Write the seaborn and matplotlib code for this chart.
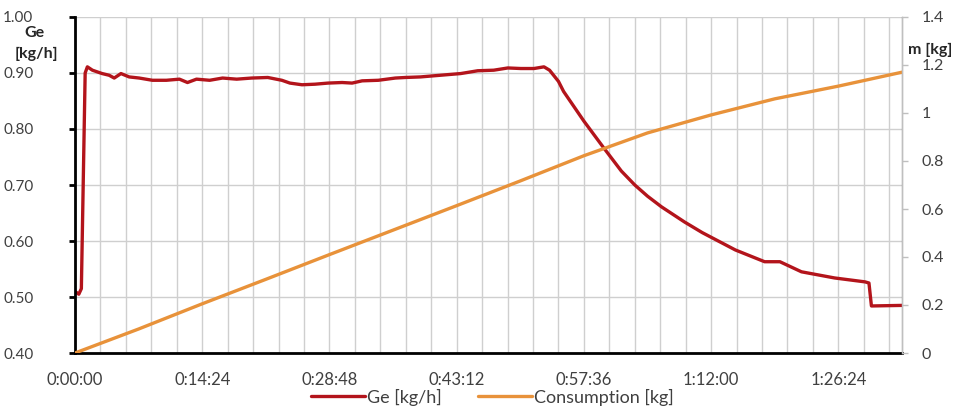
import matplotlib
matplotlib.use("Agg")
import matplotlib.pyplot as plt
from matplotlib.ticker import FuncFormatter, MultipleLocator, FixedLocator
from matplotlib.lines import Line2D
import seaborn as sns
import pandas as pd

# Fuel consumption rate (left axis), time in minutes
ge_time = [0, 0.43, 0.72, 1.15, 1.40, 1.97, 3.07, 3.86, 4.44, 5.20, 6.13, 7.27, 8.76,
           10.34, 11.82, 12.73, 13.75, 15.24, 16.70, 18.30, 20.00, 21.82, 23.41, 24.32,
           25.69, 27.16, 28.64, 30.23, 31.36, 32.50, 34.33, 36.26, 37.40, 39.10, 41.37,
           43.65, 45.58, 47.39, 48.99, 50.46, 51.94, 53.08, 53.71, 54.72, 55.30, 57.60,
           59.76, 61.83, 63.36, 64.80, 66.38, 68.98, 70.99, 74.74, 78.05, 79.78, 82.22,
           85.97, 89.42, 89.86, 90.14, 93.60]
ge_rate = [0.510, 0.505, 0.515, 0.900, 0.911, 0.905, 0.899, 0.896, 0.891, 0.899, 0.893,
           0.891, 0.887, 0.887, 0.889, 0.883, 0.889, 0.887, 0.891, 0.889, 0.891, 0.892,
           0.887, 0.882, 0.879, 0.880, 0.882, 0.883, 0.882, 0.886, 0.887, 0.891, 0.892,
           0.893, 0.896, 0.899, 0.904, 0.905, 0.909, 0.908, 0.908, 0.911, 0.905, 0.885,
           0.867, 0.814, 0.768, 0.725, 0.700, 0.680, 0.661, 0.634, 0.615, 0.584, 0.563,
           0.563, 0.545, 0.534, 0.527, 0.525, 0.484, 0.485]

# Cumulative consumption (right axis)
cons_time = [0, 7.2, 14.4, 21.6, 28.8, 36.0, 43.2, 50.4, 57.6, 64.8, 72.0, 79.2, 86.4, 93.6]
cons_mass = [0, 0.100, 0.205, 0.307, 0.410, 0.512, 0.614, 0.717, 0.822, 0.917, 0.992,
             1.059, 1.112, 1.170]

x_ticks = [0, 14.4, 28.8, 43.2, 57.6, 72.0, 86.4]
left_ticks = [0.40, 0.50, 0.60, 0.70, 0.80, 0.90, 1.00]
right_ticks = [0, 0.2, 0.4, 0.6, 0.8, 1.0, 1.2, 1.4]

label_ge = "Ge [kg/h]"
label_cons = "Consumption [kg]"

sns.set_style("white")
plt.rcParams["font.family"] = ["Lato", "DejaVu Sans"]

RED = "#B3141B"
ORANGE = "#E8923A"
GRID = "#CFCFCF"
TXT = "#404040"

fig = plt.figure(figsize=(9.6, 4.15), dpi=100)
ax = fig.add_axes([75 / 960, 62 / 415, 827 / 960, 336 / 415])
ax2 = ax.twinx()

ge_df = pd.DataFrame({"t": ge_time, "ge": ge_rate})
cons_df = pd.DataFrame({"t": cons_time, "m": cons_mass})

sns.lineplot(data=ge_df, x="t", y="ge", ax=ax, color=RED, linewidth=2.4, legend=False)
sns.lineplot(data=cons_df, x="t", y="m", ax=ax2, color=ORANGE, linewidth=2.4, legend=False)

ax.set_xlim(0, 93.6)
ax.set_ylim(0.40, 1.00)
ax2.set_ylim(0, 1.4)

def hms(v, pos=None):
    s = int(round(v * 60))
    return f"{s // 3600}:{(s % 3600) // 60:02d}:{s % 60:02d}"

ax.xaxis.set_major_locator(FixedLocator(x_ticks))
ax.xaxis.set_major_formatter(FuncFormatter(hms))
ax.xaxis.set_minor_locator(MultipleLocator(2.88))
ax.set_yticks(left_ticks)
ax.yaxis.set_major_formatter(FuncFormatter(lambda v, p: f"{v:.2f}"))
ax2.set_yticks(right_ticks)
ax2.yaxis.set_major_formatter(FuncFormatter(lambda v, p: f"{v:g}"))

ax.grid(True, axis="y", color=GRID, linewidth=1.0)
ax.grid(True, axis="x", which="both", color=GRID, linewidth=1.0)
ax.set_axisbelow(True)

ax.set_xlabel("")
ax.set_ylabel("")
ax2.set_ylabel("")

for a in (ax, ax2):
    a.spines["top"].set_visible(False)
ax.spines["left"].set_color("black")
ax.spines["left"].set_linewidth(2.0)
ax.spines["bottom"].set_color("black")
ax.spines["bottom"].set_linewidth(2.0)
ax2.spines["left"].set_visible(False)
ax2.spines["bottom"].set_visible(False)
ax2.spines["right"].set_color("#BFBFBF")
ax2.spines["right"].set_linewidth(1.0)

ax.tick_params(axis="x", which="major", direction="inout", length=8, width=2,
               color="black", labelsize=12, labelcolor=TXT, pad=10)
ax.tick_params(axis="x", which="minor", length=0)
ax.tick_params(axis="y", direction="out", length=4, width=2, color="black",
               labelsize=11, labelcolor=TXT, pad=26)
ax2.tick_params(axis="y", direction="out", length=4, width=1, color="#BFBFBF",
                labelsize=11.5, labelcolor=TXT, pad=10)

fig.text(34 / 960, 1 - 33 / 415, "Ge", ha="center", va="center",
         fontsize=11.5, fontweight="bold", color="#262626")
fig.text(36 / 960, 1 - 54 / 415, "[kg/h]", ha="center", va="center",
         fontsize=11.5, fontweight="bold", color="#262626")
fig.text(908 / 960, 1 - 50 / 415, "m [kg]", ha="left", va="center",
         fontsize=11.5, fontweight="bold", color="#262626")

handles = [Line2D([], [], color=RED, linewidth=2.4),
           Line2D([], [], color=ORANGE, linewidth=2.4)]
fig.legend(handles, [label_ge, label_cons], loc="center", ncol=2,
           bbox_to_anchor=(492 / 960, 1 - 397 / 415), frameon=False,
           fontsize=13, handlelength=3.0, handletextpad=0.1, columnspacing=2.0,
           labelcolor=TXT)

fig.savefig("out.png", dpi=100)
